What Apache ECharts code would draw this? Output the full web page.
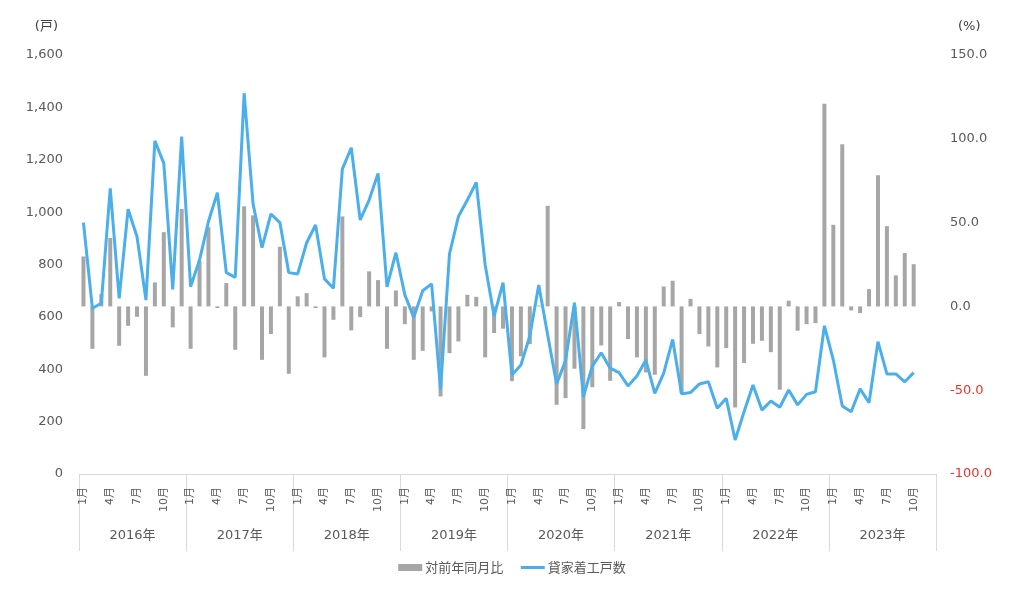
<!DOCTYPE html>
<html lang="ja">
<head>
    <meta charset="UTF-8">
    <title>貸家着工戸数</title>
    <style>
        html, body { margin: 0; padding: 0; background: #fff; }
    </style>
</head>
<body>
<div id="main" style="width: 1024px;height:594px;"></div>
<script type="text/javascript" src="https://cdn.jsdelivr.net/npm/echarts@6/dist/echarts.min.js"></script>
<script type="text/javascript">

    // 年・月のカテゴリ
    var years = ['2016年', '2017年', '2018年', '2019年', '2020年', '2021年', '2022年', '2023年'];
    var monthNames = ['1月', '2月', '3月', '4月', '5月', '6月', '7月', '8月', '9月', '10月', '11月', '12月'];

    // 貸家着工戸数（戸）
    var houses = [
        960, 633, 652, 1091, 671, 1011, 906, 664, 1272, 1186, 705, 1288,
        715, 817, 964, 1074, 769, 751, 1454, 1031, 864, 993, 960, 769,
        764, 883, 951, 745, 709, 1164, 1246, 970, 1046, 1148, 715, 845,
        684, 598, 700, 726, 323, 840, 983, 1046, 1113, 798, 603, 731,
        378, 416, 527, 722, 531, 344, 433, 654, 295, 412, 463, 404,
        387, 336, 374, 435, 308, 385, 514, 306, 311, 344, 352, 251,
        289, 130, 238, 340, 244, 279, 255, 321, 264, 304, 314, 566,
        435, 260, 238, 325, 272, 505, 382, 382, 352, 387
    ];

    // 対前年同月比（%）
    var yoy = [
        29.8, -25.3, 7.3, 40.8, -23.5, -11.6, -6.2, -41.4, 14.3, 44.3, -12.5, 58.1,
        -25.3, 27.2, 47.3, -1.0, 13.9, -25.9, 59.7, 54.3, -31.9, -16.5, 35.6, -40.2,
        6.0, 7.9, -1.0, -30.4, -8.0, 53.7, -14.3, -6.4, 20.9, 15.7, -25.3, 9.5,
        -10.6, -31.9, -26.5, -3.0, -53.7, -27.9, -20.9, 6.9, 5.7, -30.4, -15.9, -13.3,
        -44.6, -29.8, -22.5, 0.5, 60.0, -58.7, -54.7, -37.2, -73.2, -48.2, -23.3, -44.4,
        2.6, -19.5, -30.4, -39.4, -40.8, 11.9, 15.3, -51.7, 4.5, -16.5, -23.9, -36.4,
        -24.9, -60.3, -33.8, -22.3, -20.5, -27.3, -49.7, 3.4, -14.5, -10.6, -10.0, 120.9,
        48.7, 96.8, -2.4, -4.0, 10.3, 78.3, 47.9, 18.5, 31.8, 25.2
    ];

    var months = [];
    years.forEach(function () {
        monthNames.forEach(function (m) { months.push(m); });
    });

    var font = '"DejaVu Sans", "Noto Sans CJK JP", sans-serif';
    var gray = '#595959';
    var lineGray = '#d9d9d9';

    var myChart = echarts.init(document.getElementById('main'));

    myChart.setOption({
        animation: false,
        textStyle: { fontFamily: font },
        grid: { left: 79, right: 88, top: 55, bottom: 120, containLabel: false },
        legend: {
            bottom: 15,
            left: 'center',
            itemGap: 16,
            itemWidth: 24,
            itemHeight: 7,
            textStyle: { color: gray, fontSize: 13, fontFamily: '"Noto Sans CJK JP", sans-serif', padding: [0, 0, 0, -2] },
            data: [
                { name: '対前年同月比', icon: 'rect' },
                { name: '貸家着工戸数', itemStyle: { opacity: 0 }, lineStyle: { color: '#4aafea', width: 3 } }
            ]
        },
        xAxis: [
            {
                type: 'category',
                data: months,
                boundaryGap: true,
                axisLine: { onZero: false, lineStyle: { color: lineGray, width: 1 } },
                axisTick: { show: false },
                axisLabel: {
                    rotate: 90,
                    margin: 13,
                    fontSize: 11,
                    color: gray,
                    interval: function (idx) { return idx % 3 === 0; }
                }
            },
            {
                type: 'category',
                data: years,
                position: 'bottom',
                offset: 0,
                boundaryGap: true,
                axisLine: { show: false },
                axisTick: { show: true, interval: 0, length: 77, lineStyle: { color: lineGray } },
                axisLabel: { interval: 0, margin: 55, fontSize: 13, color: gray }
            }
        ],
        yAxis: [
            {
                type: 'value',
                min: 0,
                max: 1600,
                interval: 200,
                name: '(戸)',
                nameGap: 22,
                nameTextStyle: { color: '#404040', fontSize: 13, align: 'right', padding: [0, 21, 0, 0] },
                axisLine: { show: false },
                axisTick: { show: false },
                splitLine: { show: false },
                axisLabel: {
                    margin: 16,
                    fontSize: 13,
                    color: gray,
                    formatter: function (v) { return v.toLocaleString('en-US'); }
                }
            },
            {
                type: 'value',
                min: -100,
                max: 150,
                interval: 50,
                name: '(%)',
                nameGap: 22,
                nameTextStyle: { color: '#404040', fontSize: 13, align: 'left', padding: [0, 0, 0, 22] },
                axisLine: { show: false },
                axisTick: { show: false },
                splitLine: { show: false },
                axisLabel: {
                    margin: 14,
                    fontSize: 13,
                    color: function (v) { return Number(v) < 0 ? '#f0302a' : gray; },
                    formatter: function (v) { return v.toFixed(1); }
                }
            }
        ],
        series: [
            {
                name: '対前年同月比',
                type: 'bar',
                xAxisIndex: 0,
                yAxisIndex: 1,
                barWidth: 4,
                itemStyle: { color: '#a6a6a6' },
                data: yoy
            },
            {
                name: '貸家着工戸数',
                type: 'line',
                xAxisIndex: 0,
                yAxisIndex: 0,
                symbol: 'none',
                lineStyle: { color: '#4aafea', width: 3 },
                itemStyle: { color: '#4aafea' },
                data: houses
            }
        ]
    });
</script>
</body>
</html>
